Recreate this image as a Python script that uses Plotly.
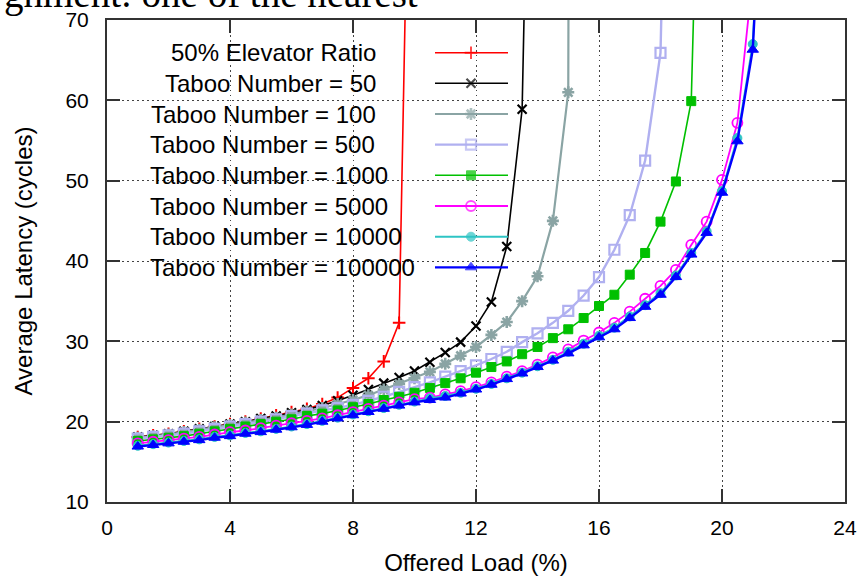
import plotly.graph_objects as go

# ---------------- data ----------------
x_vals = [1.0, 1.5, 2.0, 2.5, 3.0, 3.5, 4.0, 4.5, 5.0, 5.5, 6.0, 6.5, 7.0, 7.5,
          8.0, 8.5, 9.0, 9.5, 10.0, 10.5, 11.0, 11.5, 12.0, 12.5, 13.0, 13.5,
          14.0, 14.5, 15.0, 15.5, 16.0, 16.5, 17.0, 17.5, 18.0, 18.5, 19.0,
          19.5, 20.0, 20.5, 21.0, 21.5]

elevator_50 = [18.1, 18.3, 18.5, 18.8, 19.1, 19.4, 19.7, 20.0, 20.4, 20.8, 21.2,
               21.6, 22.2, 23.0, 24.2, 25.4, 27.5, 32.3, 131.0]
taboo_50 = [18.1, 18.3, 18.5, 18.8, 19.1, 19.4, 19.7, 20.0, 20.4, 20.7, 21.1,
            21.5, 22.0, 22.6, 23.3, 24.0, 24.8, 25.5, 26.3, 27.4, 28.6, 29.9,
            31.9, 34.9, 41.8, 58.9, 151.0]
taboo_100 = [18.0, 18.2, 18.4, 18.7, 19.0, 19.3, 19.6, 19.9, 20.2, 20.5, 20.9,
             21.3, 21.7, 22.2, 22.7, 23.3, 24.0, 24.7, 25.4, 26.2, 27.2, 28.2,
             29.3, 30.8, 32.4, 35.0, 38.1, 45.0, 61.0, 800.0]
taboo_500 = [17.9, 18.1, 18.3, 18.5, 18.8, 19.1, 19.4, 19.7, 20.0, 20.3, 20.7,
             21.0, 21.4, 21.7, 22.1, 22.6, 23.1, 23.7, 24.3, 24.9, 25.6, 26.3,
             27.0, 27.8, 28.7, 29.9, 31.0, 32.3, 33.8, 35.7, 38.0, 41.4, 45.7,
             52.5, 65.9, 150.0]
taboo_1000 = [17.6, 17.8, 18.0, 18.2, 18.5, 18.8, 19.1, 19.4, 19.7, 20.0, 20.3,
              20.7, 21.0, 21.4, 21.8, 22.2, 22.7, 23.1, 23.6, 24.2, 24.8, 25.4,
              26.1, 26.8, 27.5, 28.4, 29.3, 30.4, 31.5, 32.9, 34.4, 35.8, 38.3,
              41.0, 44.9, 49.9, 59.9, 132.0]
taboo_5000 = [17.3, 17.5, 17.7, 17.9, 18.1, 18.4, 18.7, 18.9, 19.2, 19.5, 19.8,
              20.1, 20.4, 20.8, 21.2, 21.6, 22.0, 22.4, 22.8, 23.0, 23.4, 23.8,
              24.3, 24.9, 25.6, 26.3, 27.1, 28.0, 29.0, 30.1, 31.1, 32.3, 33.7,
              35.3, 36.9, 38.9, 42.0, 44.9, 50.1, 57.2, 75.5]
taboo_10000 = [17.0, 17.2, 17.4, 17.6, 17.8, 18.1, 18.3, 18.6, 18.8, 19.1, 19.4,
               19.7, 20.1, 20.5, 20.9, 21.3, 21.7, 22.1, 22.5, 22.9, 23.2, 23.6,
               24.1, 24.7, 25.4, 26.1, 26.9, 27.7, 28.7, 29.7, 30.7, 31.7, 33.1,
               34.5, 36.0, 38.2, 41.0, 43.7, 48.7, 55.3, 67.0, 106.0]
taboo_100000 = [16.9, 17.1, 17.3, 17.5, 17.7, 18.0, 18.2, 18.5, 18.7, 19.0, 19.3,
                19.6, 20.0, 20.4, 20.8, 21.2, 21.6, 22.0, 22.4, 22.7, 23.0, 23.5,
                24.0, 24.6, 25.3, 26.0, 26.8, 27.6, 28.5, 29.5, 30.5, 31.5, 32.9,
                34.3, 35.8, 38.0, 40.8, 43.5, 48.5, 54.9, 66.3, 103.0]

series_names = ["50% Elevator Ratio", "Taboo Number = 50", "Taboo Number = 100",
                "Taboo Number = 500", "Taboo Number = 1000", "Taboo Number = 5000",
                "Taboo Number = 10000", "Taboo Number = 100000"]
series_values = [elevator_50, taboo_50, taboo_100, taboo_500, taboo_1000,
                 taboo_5000, taboo_10000, taboo_100000]

x_ticks = [0, 4, 8, 12, 16, 20, 24]
y_ticks = [10, 20, 30, 40, 50, 60, 70]

# ---------------- styles ----------------
colors = ["#ff0000", "#000000", "#8aa4a4", "#b0b0f0", "#00c000", "#ff00ff",
          "#2ec4c4", "#0000ff"]
symbols = ["cross-thin", "x-thin", "asterisk", "square-open", "square",
           "circle-open", "circle", "triangle-up"]
msizes = [9, 9, 10, 10, 9, 10, 9, 10]
lwidths = [1.6, 1.6, 2.2, 2.4, 1.6, 1.8, 2.0, 2.4]
mlw = [2.0, 2.2, 2.6, 2.2, 1.0, 1.8, 1.0, 1.0]

FONT = "Liberation Sans, Arial, sans-serif"

fig = go.Figure()

for name, vals, c, s, ms, lw, ml in zip(series_names, series_values, colors,
                                        symbols, msizes, lwidths, mlw):
    fig.add_trace(go.Scatter(
        x=x_vals[:len(vals)], y=vals, mode="lines+markers", name=name,
        line=dict(color=c, width=lw),
        marker=dict(symbol=s, size=ms, color=c, line=dict(color=c, width=ml)),
        showlegend=False))

# ---- hand-made legend on an overlay axis in pixel units ----
L_LEFT, L_RIGHT, L_MID = 435, 508, 471
row_y = [52.7, 83.3, 114.0, 144.7, 175.3, 206.0, 236.7, 267.3]
text_anchor_x = [378, 378, 378, 148, 148, 148, 148, 148]
text_anchor = ["right", "right", "right", "left", "left", "left", "left", "left"]

for i, (name, c, s, ms, lw, ml) in enumerate(zip(series_names, colors, symbols,
                                                msizes, lwidths, mlw)):
    fig.add_trace(go.Scatter(
        x=[L_LEFT, L_MID, L_RIGHT], y=[row_y[i]] * 3, mode="lines+markers",
        xaxis="x2", yaxis="y2", showlegend=False, hoverinfo="skip",
        line=dict(color=c, width=min(lw, 2.2)),
        marker=dict(symbol=s, size=[0, ms, 0], color=c,
                    line=dict(color=c, width=ml))))
    fig.add_annotation(x=text_anchor_x[i], y=row_y[i], xref="x2", yref="y2",
                       text=name, showarrow=False, xanchor=text_anchor[i],
                       yanchor="middle",
                       font=dict(family=FONT, size=24, color="#000000"))

# cropped text line of the surrounding page (cut off at the top edge)
fig.add_annotation(x=-105 / 738, y=1.0, xref="paper", yref="paper",
                   text="gnment: one of the nearest", showarrow=False,
                   xanchor="left", yanchor="bottom", yshift=2,
                   font=dict(family="Liberation Serif, serif", size=39,
                             color="#000000"))

axis_common = dict(showline=True, mirror="ticks", linecolor="#333333",
                   linewidth=2, ticks="inside", ticklen=13, tickwidth=1.5,
                   tickcolor="#333333", showgrid=True, gridcolor="#444444",
                   gridwidth=1, griddash="1.5px,3.5px", zeroline=False,
                   tickfont=dict(family=FONT, size=21, color="#000000"))

fig.update_layout(
    width=862, height=576,
    margin=dict(l=107, r=17, t=20, b=74, autoexpand=False),
    paper_bgcolor="white", plot_bgcolor="white",
    xaxis=dict(range=[0, 24], tickvals=x_ticks, ticklabelstandoff=6,
               title=dict(text="Offered Load (%)", standoff=28,
                          font=dict(family=FONT, size=24, color="#000000")),
               **axis_common),
    yaxis=dict(range=[10, 70], tickvals=y_ticks, ticklabelstandoff=12,
               title=dict(text="Average Latency (cycles)", standoff=26,
                          font=dict(family=FONT, size=24, color="#000000")),
               **axis_common),
    xaxis2=dict(overlaying="x", range=[107, 845], visible=False,
                fixedrange=True),
    yaxis2=dict(overlaying="y", range=[502, 20], visible=False,
                fixedrange=True),
)

fig.write_html("out.html")
